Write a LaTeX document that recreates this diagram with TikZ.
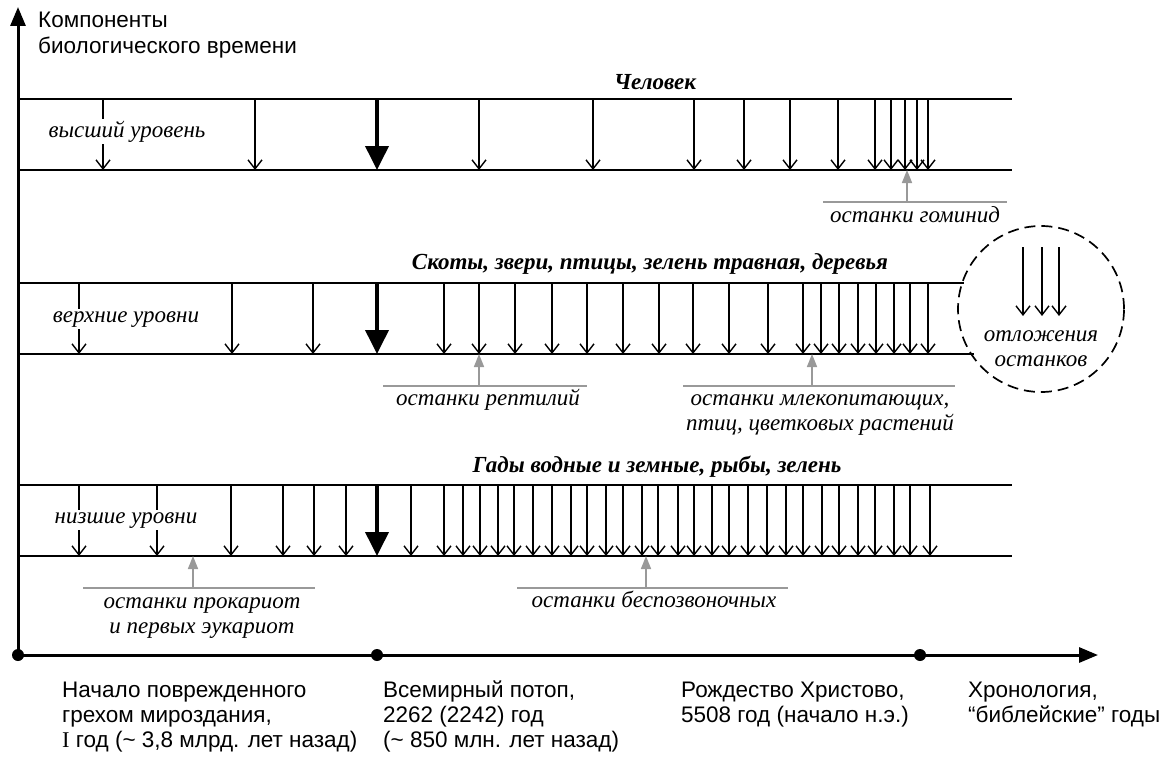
\documentclass[tikz,border=0pt]{standalone}
\usepackage{fontspec}
\setmainfont{Liberation Serif}
\setsansfont{Liberation Sans}
\usetikzlibrary{arrows.meta}

\begin{document}
\begin{tikzpicture}[x=1pt,y=-1pt,line join=round,
	band/.style={line width=1.9pt},
	fall/.style={line width=1.4pt,-{Straight Barb[length=9pt,width=14pt,line width=1.4pt]}},
	flood/.style={line width=3.8pt,-{Triangle[length=24pt,width=23pt]}},
	find/.style={gray!80,line width=1.6pt,-{Triangle[length=13pt,width=10pt]}},
	findline/.style={gray!80,line width=1.6pt},
	axis/.style={line width=3pt,-{Triangle[length=19pt,width=15pt]}},
	lvl/.style={font=\itshape\fontsize{23}{25}\selectfont,fill=white,inner sep=2pt,anchor=base},
	ttl/.style={font=\bfseries\itshape\fontsize{23}{25}\selectfont,anchor=base},
	note/.style={font=\itshape\fontsize{23}{25}\selectfont,align=center,inner sep=0pt,anchor=base},
	era/.style={font=\sffamily\fontsize{22.5}{25}\selectfont,align=left,anchor=base west,inner sep=0pt}
	]
	\useasboundingbox (0,0) rectangle (1174,760);
	
	% axes
	\coordinate (O) at (18,655);
	\coordinate (flood) at (377,655);
	\coordinate (xmas) at (920,655);
	\draw[axis] (O) -- (18,7);
	\draw[axis] (O) -- (1098,655);
	\foreach \p in {O,flood,xmas} \fill (\p) circle (6);
	\node[era] (ylab) at (38,53) {Компоненты\\биологического времени};
	
	% top band
	\draw[band] (18,99) -- (1012,99) (18,170) -- (1012,170);
	\foreach \x in {103,255,479,593,694,744,790,838,875,891,905,917,928}
		\draw[fall] (\x,99) -- (\x,170);
	\draw[flood] (377,99) -- (377,170);
	\node[ttl] (man) at (655,89) {Человек};
	\node[lvl] (hi) at (127,137) {высший уровень};
	
	% middle band
	\draw[band] (18,283) -- (964,283) (18,354) -- (974,354);
	\foreach \x in {79,232,313,444,479,515,552,587,623,659,693,729,768,803,821,839,858,876,894,910,928}
		\draw[fall] (\x,283) -- (\x,354);
	\draw[flood] (377,283) -- (377,354);
	\node[ttl] (beasts) at (650,269) {Скоты, звери, птицы, зелень травная, деревья};
	\node[lvl] (up) at (126,322) {верхние уровни};
	
	% bottom band
	\draw[band] (18,485) -- (1012,485) (18,556) -- (1012,556);
	\foreach \x in {79,157,231,283,314,346,411,444,463,480,498,514,533,552,571,587,606,623,642,658,678,694,712,729,748,767,786,803,822,839,858,875,894,910,930}
		\draw[fall] (\x,485) -- (\x,556);
	\draw[flood] (377,485) -- (377,556);
	\node[ttl] (fish) at (657,472) {Гады водные и земные, рыбы, зелень};
	\node[lvl] (low) at (126,523) {низшие уровни};
	
	% deposits
	\node[draw,circle,dashed,dash pattern=on 11pt off 6pt,line width=1.7pt,minimum size=166pt] (dep) at (1041,309) {};
	\foreach \x in {1023,1042,1059}
		\draw[fall] (\x,247) -- (\x,316);
	\node[note] (deptxt) at (1041,366) {отложения\\останков};
	
	% remains
	\coordinate (homfoot) at (907,202);
	\draw[findline] (823,202) -- (1007,202);
	\draw[find] (homfoot) -- (907,170);
	\node[note] (hom) at (915,222) {останки гоминид};
	
	\coordinate (repfoot) at (479,386);
	\draw[findline] (383,386) -- (587,386);
	\draw[find] (repfoot) -- (479,354);
	\node[note] (rep) at (488,405) {останки рептилий};
	
	\coordinate (mamfoot) at (812,386);
	\draw[findline] (683,386) -- (955,386);
	\draw[find] (mamfoot) -- (812,354);
	\node[note] (mam) at (820,430) {останки млекопитающих,\\птиц, цветковых растений};
	
	\coordinate (profoot) at (193,588);
	\draw[findline] (83,588) -- (315,588);
	\draw[find] (profoot) -- (193,556);
	\node[note] (pro) at (202,633) {останки прокариот\\и первых эукариот};
	
	\coordinate (invfoot) at (646,588);
	\draw[findline] (517,588) -- (788,588);
	\draw[find] (invfoot) -- (646,556);
	\node[note] (inv) at (654,607) {останки беспозвоночных};
	
	% chronology
	\node[era] (t1) at (62,747) {Начало поврежденного\\грехом мироздания,\\{\rmfamily I} год (\textasciitilde{} 3,8 млрд. лет назад)};
	\node[era] (t2) at (383,747) {Всемирный потоп,\\2262 (2242) год\\(\textasciitilde{} 850 млн. лет назад)};
	\node[era] (t3) at (681,722) {Рождество Христово,\\5508 год (начало н.э.)};
	\node[era] (t4) at (968,722) {Хронология,\\“библейские” годы};
\end{tikzpicture}
\end{document}
